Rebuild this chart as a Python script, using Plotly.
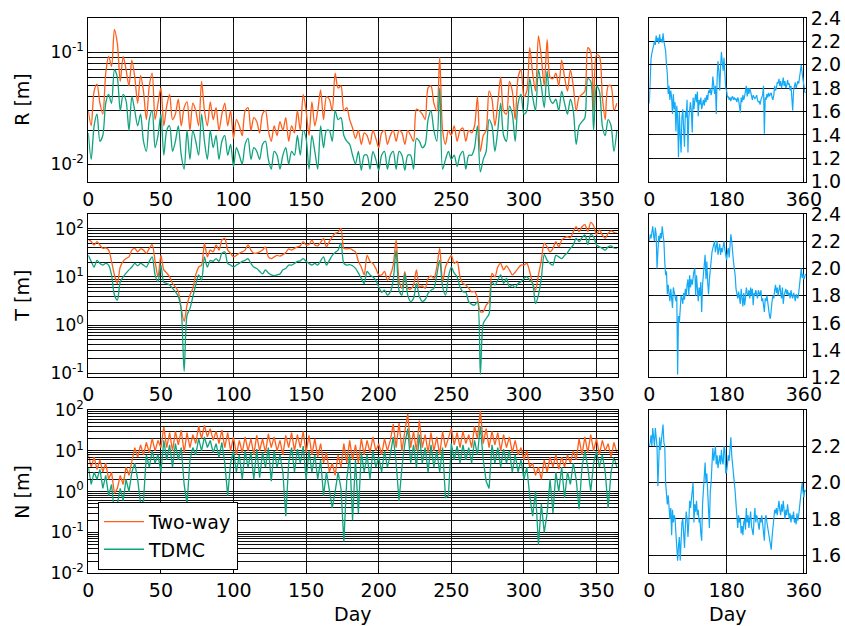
import plotly.graph_objects as go

# ---------------- data (every 2nd day) ----------------
days = list(range(0, 365, 2))

r_twoway = [
    0.030, 0.022, 0.045, 0.052, 0.035, 0.028, 0.065, 0.092, 0.075, 0.16,
    0.12, 0.055, 0.092, 0.07, 0.05, 0.085, 0.06, 0.035, 0.062, 0.045,
    0.025, 0.05, 0.065, 0.025, 0.035, 0.048, 0.022, 0.033, 0.042, 0.025,
    0.028, 0.038, 0.022, 0.032, 0.036, 0.02, 0.035, 0.03, 0.022, 0.055,
    0.03, 0.022, 0.036, 0.025, 0.032, 0.02, 0.028, 0.035, 0.022, 0.03,
    0.017, 0.025, 0.022, 0.018, 0.03, 0.032, 0.02, 0.026, 0.024, 0.019,
    0.028, 0.03, 0.02, 0.016, 0.022, 0.018, 0.024, 0.02, 0.026, 0.016,
    0.022, 0.019, 0.03, 0.02, 0.042, 0.03, 0.018, 0.036, 0.022, 0.03,
    0.046, 0.025, 0.04, 0.038, 0.03, 0.065, 0.048, 0.05, 0.03, 0.032,
    0.025, 0.021, 0.017, 0.02, 0.015, 0.019, 0.018, 0.015, 0.02, 0.017,
    0.014, 0.019, 0.02, 0.015, 0.018, 0.02, 0.016, 0.02, 0.019, 0.015,
    0.02, 0.018, 0.016, 0.031, 0.03, 0.028, 0.025, 0.048, 0.05, 0.035,
    0.03, 0.09, 0.02, 0.015, 0.02, 0.018, 0.022, 0.016, 0.02, 0.021,
    0.016, 0.02, 0.019, 0.022, 0.04, 0.013, 0.018, 0.02, 0.045, 0.038,
    0.022, 0.035, 0.06, 0.03, 0.028, 0.055, 0.045, 0.025, 0.06, 0.07,
    0.04, 0.045, 0.11, 0.065, 0.045, 0.14, 0.09, 0.05, 0.13, 0.06,
    0.058, 0.065, 0.05, 0.085, 0.06, 0.045, 0.07, 0.05, 0.03, 0.04,
    0.042, 0.045, 0.11, 0.1, 0.03, 0.095, 0.092, 0.04, 0.025, 0.05,
    0.05, 0.03, 0.035,
]
r_tdmc = [
    0.019, 0.011, 0.022, 0.028, 0.016, 0.018, 0.035, 0.042, 0.035, 0.07,
    0.06, 0.03, 0.042, 0.037, 0.02, 0.04, 0.03, 0.022, 0.028, 0.016,
    0.013, 0.025, 0.03, 0.014, 0.018, 0.028, 0.012, 0.02, 0.022, 0.013,
    0.016, 0.022, 0.012, 0.009, 0.02, 0.011, 0.02, 0.016, 0.012, 0.028,
    0.016, 0.011, 0.02, 0.014, 0.018, 0.011, 0.016, 0.018, 0.012, 0.015,
    0.0095, 0.014, 0.012, 0.01, 0.015, 0.017, 0.011, 0.014, 0.013, 0.011,
    0.015, 0.016, 0.011, 0.009, 0.013, 0.012, 0.009, 0.012, 0.014, 0.01,
    0.013, 0.012, 0.018, 0.012, 0.02, 0.017, 0.009, 0.018, 0.013, 0.009,
    0.022, 0.014, 0.02, 0.02, 0.016, 0.03, 0.025, 0.026, 0.018, 0.016,
    0.015, 0.012, 0.01, 0.013, 0.0088, 0.012, 0.012, 0.009, 0.013, 0.011,
    0.0088, 0.012, 0.013, 0.009, 0.012, 0.013, 0.009, 0.013, 0.012, 0.0088,
    0.012, 0.012, 0.009, 0.017, 0.016, 0.014, 0.015, 0.025, 0.03, 0.02,
    0.016, 0.048, 0.009, 0.011, 0.013, 0.011, 0.012, 0.0095, 0.012, 0.013,
    0.009, 0.012, 0.012, 0.014, 0.022, 0.0085, 0.011, 0.013, 0.025, 0.022,
    0.013, 0.02, 0.035, 0.018, 0.016, 0.033, 0.028, 0.016, 0.035, 0.042,
    0.028, 0.03, 0.058, 0.04, 0.03, 0.07, 0.05, 0.032, 0.068, 0.038,
    0.035, 0.038, 0.03, 0.045, 0.035, 0.028, 0.038, 0.03, 0.015, 0.022,
    0.024, 0.026, 0.058, 0.055, 0.02, 0.05, 0.045, 0.022, 0.018, 0.025,
    0.022, 0.013, 0.02,
]

t_twoway = [
    60, 54, 46, 54, 46, 39, 40, 36, 21, 11,
    7.3, 16, 21, 24, 26, 36, 39, 33, 38, 36,
    31, 39, 47, 21, 10, 28, 14, 12, 10, 7.3,
    6.2, 4.9, 2.2, 1.2, 2.6, 4.2, 5.8, 11, 16, 17.6,
    50, 26, 36, 33, 46, 36, 58, 63, 36, 31,
    26, 28, 31, 33, 36, 46, 36, 31, 31, 33,
    36, 42, 26, 24, 26, 28, 27, 29, 32, 38,
    36, 39, 42, 44, 54, 46, 47, 58, 46, 44,
    52, 63, 42, 54, 68, 80, 84, 102, 39, 38,
    39, 36, 33, 21, 16, 11, 28, 21, 19, 15,
    11, 11, 13, 8.6, 11, 17.6, 58, 8.6, 5.8, 12.8,
    5.8, 5.6, 6.8, 14, 6.2, 6.5, 5.8, 9.3, 10.5, 9.3,
    16, 39, 7.9, 16, 22, 28, 19, 21, 10, 7.3,
    6.8, 5.8, 4.9, 5.0, 3.6, 1.9, 1.9, 2.6, 3.06, 11.8,
    10, 16, 19, 14, 17, 14, 11, 12.5, 15, 17.6,
    17.6, 19, 12.8, 7.3, 5.3, 11, 22, 50, 42, 33,
    39, 54, 42, 58, 65, 68, 65, 87, 110, 87,
    110, 122, 87, 135, 115, 76, 94, 74, 63, 80,
    90, 84, 80,
]
t_tdmc = [
    28, 21, 16, 22, 19, 17.6, 19, 17.6, 11, 4.2,
    3.3, 7.9, 10, 12, 14, 16, 19, 17, 19, 17.6,
    16, 21, 26, 11, 7.9, 17.6, 7.7, 7.3, 6.8, 5.8,
    4.9, 3.9, 2.06, 0.11, 1.6, 2.2, 3.9, 6.8, 11, 8.6,
    26, 16, 22, 21, 24, 21, 31, 33, 19, 17.6,
    16, 17.6, 19, 21, 22, 24, 19, 16, 15, 13,
    11.5, 14, 12, 11, 10.6, 11, 11.5, 14, 15, 17.6,
    17.6, 19, 21, 21.5, 24, 21, 19, 17.6, 19, 17.6,
    21.5, 26, 17.6, 22, 28, 32, 36, 50, 19, 17.6,
    18, 17, 15, 12, 9.3, 7.3, 13, 11, 10, 8.6,
    6.2, 4.8, 5.3, 4.2, 4.9, 8.6, 36, 5.3, 4.2, 11.8,
    4.2, 3.06, 3.6, 7.3, 3.9, 3.1, 3.4, 4.55, 5.3, 5.8,
    11, 22, 6.2, 4.2, 10, 16, 12, 10, 6.2, 4.9,
    4.8, 3.06, 2.7, 2.6, 3.06, 0.095, 1.08, 1.37, 1.7, 7.9,
    6.8, 8.6, 11, 7.3, 9.3, 6.2, 6.8, 6.0, 7.3, 7.9,
    9.3, 10, 8.6, 7.3, 2.8, 4.2, 9.3, 29, 22, 19,
    17.6, 28, 26, 24, 28, 32, 39, 46, 63, 54,
    65, 74, 47, 76, 68, 46, 42, 39, 36, 42,
    44, 40, 39,
]

n_twoway = [
    8, 4, 7, 3.5, 6, 3, 5, 2, 3, 0.9,
    1.2, 2.5, 1.5, 4, 2.5, 6, 12, 7, 14, 8,
    16, 9, 20, 10, 18, 12, 38, 12, 28, 10,
    30, 14, 32, 9, 28, 12, 25, 15, 40, 20,
    42, 22, 35, 18, 30, 15, 32, 12, 28, 10,
    22, 8, 18, 9, 22, 10, 20, 8, 24, 10,
    20, 9, 26, 12, 22, 10, 18, 8, 24, 12,
    28, 10, 25, 12, 30, 9, 24, 8, 20, 7,
    15, 5, 9, 3, 5, 2.5, 8, 4, 15, 5,
    18, 6, 14, 5, 20, 8, 18, 9, 22, 10,
    15, 8, 20, 10, 18, 45, 12, 48, 10, 30,
    80, 12, 30, 10, 55, 12, 25, 9, 28, 10,
    22, 8, 30, 12, 20, 35, 14, 28, 12, 30,
    15, 25, 12, 40, 20, 95, 15, 35, 12, 30,
    14, 28, 10, 25, 12, 22, 9, 18, 8, 12,
    6, 10, 4, 5, 2.5, 4, 2, 6, 3, 7,
    4, 8, 3.5, 7, 4, 8, 5, 10, 6, 20,
    8, 22, 9, 25, 10, 20, 8, 18, 10, 15,
    7, 16, 9,
]
n_tdmc = [
    4, 1.5, 3, 2, 3.5, 1.2, 2.5, 0.8, 1.5, 0.3,
    0.5, 1.2, 0.6, 2, 1, 3, 5, 2, 0.5, 0.6,
    8, 4, 10, 5, 8, 3, 18, 6, 14, 4,
    15, 6, 12, 1.5, 0.5, 6, 12, 8, 20, 10,
    22, 12, 18, 9, 15, 7, 16, 5, 0.8, 5,
    10, 3, 8, 2, 10, 4, 9, 2, 11, 2.2,
    9, 4, 12, 1.8, 10, 4, 8, 3, 0.25, 5,
    12, 3, 11, 5, 13, 2, 10, 3, 8, 2,
    6, 0.8, 3, 1, 0.4, 1, 3, 1.2, 0.06, 2,
    8, 0.2, 6, 0.3, 9, 3, 8, 2, 10, 4,
    7, 3, 10, 4, 8, 22, 5, 0.6, 4, 15,
    35, 5, 14, 4, 25, 5, 12, 3, 14, 4,
    10, 3, 12, 0.7, 0.8, 15, 6, 13, 5, 14,
    6, 12, 5, 18, 8, 40, 6, 1.8, 1.2, 14,
    5, 12, 4, 11, 5, 10, 3, 8, 3, 6,
    2, 4, 0.8, 0.25, 1, 0.05, 0.5, 0.1, 0.3, 2,
    0.3, 3, 1, 4, 0.7, 3, 1.5, 5, 2, 0.37,
    4, 10, 4, 1, 5, 10, 4, 8, 3, 0.4,
    3, 7, 4,
]

r_right = [
    1.67, 1.9, 2.05, 2.1, 2.13, 2.18, 2.2, 2.17, 2.25, 2.2,
    2.23, 2.18, 2.26, 2.2, 2.22, 2.19, 2.27, 2.2, 2.15, 2.12,
    2.0, 1.92, 1.75, 1.82, 1.7, 1.78, 1.72, 1.58, 1.75, 1.62,
    1.68, 1.43, 1.65, 1.55, 1.21, 1.6, 1.4, 1.25, 1.55, 1.62,
    1.45, 1.3, 1.6, 1.55, 1.7, 1.25, 1.55, 1.62, 1.68, 1.6,
    1.42, 1.72, 1.62, 1.7, 1.75, 1.68, 1.77, 1.56, 1.7, 1.66,
    1.72, 1.62, 1.68, 1.7, 1.65, 1.72, 1.68, 1.74, 1.7, 1.78,
    1.76, 1.8, 1.74, 1.78, 1.9, 1.82, 1.75, 1.82, 1.58, 1.88,
    2.03, 1.95, 1.78, 1.98, 2.11, 2.02, 1.95, 2.06, 1.85, 1.8,
    1.78, 1.72, 1.73, 1.7, 1.72, 1.69, 1.72, 1.73, 1.7, 1.72,
    1.7, 1.71, 1.68, 1.72, 1.7, 1.66, 1.59, 1.72, 1.68, 1.74,
    1.7, 1.73, 1.8, 1.82, 1.73, 1.8, 1.75, 1.8, 1.77, 1.72,
    1.7, 1.74, 1.73, 1.71, 1.72, 1.74, 1.7, 1.68, 1.69, 1.66,
    1.7, 1.72, 1.74, 1.82, 1.41, 1.72, 1.7, 1.75, 1.72, 1.76,
    1.73, 1.75, 1.76, 1.72, 1.7, 1.74, 1.82, 1.78, 1.8, 1.85,
    1.84, 1.88, 1.82, 1.86, 1.8, 1.84, 1.89, 1.82, 1.86, 1.8,
    1.82, 1.87, 1.83, 1.84, 1.78, 1.82, 1.7, 1.61, 1.78, 1.84,
    1.85, 1.8, 1.83, 1.86, 1.84, 1.9, 1.95, 2.0, 1.93, 1.87,
    1.82, 1.77, 1.76,
]
t_right = [
    2.2, 2.25, 2.22, 2.28, 2.31, 2.24, 2.2, 2.3, 2.25, 2.0,
    2.1, 2.24, 2.2, 2.26, 2.22, 2.31, 2.25, 2.2, 2.05, 1.95,
    1.98, 1.81, 1.88, 1.8, 1.76, 1.85, 1.78, 1.71, 1.86, 1.82,
    1.78, 1.76, 1.8, 1.22, 1.65, 1.6, 1.7, 1.8, 1.78, 1.74,
    1.82, 1.77, 1.85, 1.8, 1.88, 1.92, 1.8, 1.95, 1.86, 1.92,
    1.88, 1.95, 1.98, 2.0, 1.8, 1.95, 1.82, 1.76, 1.86, 1.8,
    1.9, 1.68, 1.88, 1.95, 2.05, 2.1, 1.92, 2.05, 1.9, 1.81,
    1.92, 2.0, 2.05, 2.12, 2.15, 2.18, 2.2, 2.12, 2.18, 2.2,
    2.1, 2.14, 2.18, 2.1, 2.15, 2.12, 2.18, 2.2, 2.14, 2.1,
    2.06, 2.12, 2.15, 2.08, 2.18, 2.25, 2.2, 2.1, 2.05, 2.0,
    1.95, 1.85, 1.82, 1.78, 1.83, 1.76, 1.74, 1.85, 1.8, 1.72,
    1.82, 1.73, 1.78, 1.86, 1.82, 1.8, 1.84, 1.78, 1.86, 1.8,
    1.85, 1.73, 1.82, 1.8, 1.84, 1.81, 1.78, 1.84, 1.82, 1.8,
    1.84, 1.76, 1.78, 1.7, 1.68, 1.78, 1.76, 1.8, 1.74, 1.68,
    1.65, 1.63, 1.72, 1.76, 1.8, 1.78, 1.84, 1.88, 1.82, 1.86,
    1.8, 1.84, 1.88, 1.82, 1.78, 1.86, 1.74, 1.8, 1.82, 1.85,
    1.81, 1.84, 1.8, 1.82, 1.78, 1.84, 1.8, 1.78, 1.82, 1.8,
    1.76, 1.81, 1.79, 1.78, 1.82, 1.88, 1.95, 2.0, 1.93, 1.96,
    1.92, 1.95, 1.96,
]
n_right = [
    2.2, 2.22, 2.26, 2.2, 2.3, 2.26, 2.2, 2.3, 2.24, 2.2,
    1.98, 2.2, 2.25, 2.18, 2.22, 2.28, 2.32, 2.22, 2.2, 2.0,
    1.95, 1.88, 1.93, 1.85, 1.8, 1.86, 1.71, 1.85, 1.78, 1.82,
    1.8, 1.72, 1.62, 1.57, 1.65, 1.7, 1.57, 1.75, 1.78, 1.8,
    1.72, 1.64, 1.76, 1.84, 1.8, 1.7, 1.78, 1.9, 1.86, 1.92,
    1.95, 2.0, 1.78, 1.88, 1.84, 1.9, 1.82, 1.85, 1.78, 1.8,
    1.72, 1.68, 1.88, 1.95, 2.05, 2.11, 2.0, 2.05, 1.95, 1.8,
    1.75, 1.95, 2.0, 2.1, 2.19, 2.12, 2.15, 2.2, 2.1, 2.15,
    2.08, 2.12, 2.15, 2.1, 2.18, 2.12, 2.1, 2.2, 2.18, 2.05,
    2.06, 2.1, 2.15, 2.12, 2.2, 2.25, 2.15, 2.1, 2.05, 2.03,
    1.95, 1.88, 1.8, 1.75, 1.82, 1.78, 1.8, 1.72, 1.76, 1.71,
    1.78, 1.8, 1.74, 1.86, 1.78, 1.82, 1.75, 1.8, 1.84, 1.76,
    1.72, 1.71, 1.8, 1.86, 1.78, 1.82, 1.8, 1.77, 1.74, 1.8,
    1.78, 1.82, 1.76, 1.74, 1.68, 1.8, 1.82, 1.78, 1.75, 1.72,
    1.68, 1.65, 1.63, 1.7, 1.75, 1.78, 1.85, 1.83, 1.86, 1.82,
    1.88, 1.9, 1.85, 1.82, 1.88, 1.84, 1.9, 1.86, 1.8, 1.85,
    1.82, 1.88, 1.84, 1.8, 1.83, 1.78, 1.82, 1.8, 1.84, 1.78,
    1.8, 1.77, 1.83, 1.79, 1.82, 1.86, 1.9, 1.96, 2.0, 1.95,
    1.92, 1.96, 1.95,
]

left_xticks = [0, 50, 100, 150, 200, 250, 300, 350]
right_xticks = [0, 180, 360]
r_right_ticks = [1.0, 1.2, 1.4, 1.6, 1.8, 2.0, 2.2, 2.4]
t_right_ticks = [1.2, 1.4, 1.6, 1.8, 2.0, 2.2, 2.4]
n_right_ticks = [1.6, 1.8, 2.0, 2.2]

for name, arr in [("r_twoway", r_twoway), ("r_tdmc", r_tdmc), ("t_twoway", t_twoway),
                  ("t_tdmc", t_tdmc), ("n_twoway", n_twoway), ("n_tdmc", n_tdmc),
                  ("r_right", r_right), ("t_right", t_right), ("n_right", n_right)]:
    if len(arr) != len(days):
        raise ValueError(f"{name} has {len(arr)} values, expected {len(days)}")

# ---------------- styling ----------------
FONT = "DejaVu Sans"
ORANGE = "#ff5f1a"
GREEN = "#0fa37e"
BLUE = "#12a9f7"
W, H = 845, 626


def px_x(a, b):
    return [a / W, b / W]


def px_y(top, bottom):
    return [1 - bottom / H, 1 - top / H]


def log_ticks(e0, e1):
    vals, text = [], []
    for e in range(e0, e1 + 1):
        for m in range(1, 10):
            vals.append(m * 10.0 ** e)
            text.append(f"10<sup>{e}</sup>" if m == 1 else "")
    return vals, text


LEFT = px_x(88.3, 618.3)
RIGHT = px_x(649.3, 806.0)
ROWS = [px_y(18, 181.7), px_y(214, 377.3), px_y(410, 573.3)]

common = dict(showline=True, linecolor="black", linewidth=1, mirror="ticks",
              ticks="inside", ticklen=4, tickcolor="black", showgrid=True,
              gridcolor="#111111", gridwidth=1, zeroline=False, automargin=False,
              tickfont=dict(family=FONT, size=19, color="black"))

fig = go.Figure()

left_sets = [(r_twoway, r_tdmc, "spline"), (t_twoway, t_tdmc, "spline"),
             (n_twoway, n_tdmc, "linear")]
right_sets = [r_right, t_right, n_right]

for i, (tw, td, shape) in enumerate(left_sets):
    xa = "x" if i == 0 else f"x{2 * i + 1}"
    ya = "y" if i == 0 else f"y{2 * i + 1}"
    fig.add_trace(go.Scatter(x=days, y=tw, mode="lines", name="Two-way",
                             line=dict(color=ORANGE, width=1.3, shape=shape, smoothing=0.8),
                             xaxis=xa, yaxis=ya, showlegend=(i == 0)))
    fig.add_trace(go.Scatter(x=days, y=td, mode="lines", name="TDMC",
                             line=dict(color=GREEN, width=1.3, shape=shape, smoothing=0.8),
                             xaxis=xa, yaxis=ya, showlegend=(i == 0)))

for i, vals in enumerate(right_sets):
    fig.add_trace(go.Scatter(x=days, y=vals, mode="lines", name="ratio",
                             line=dict(color=BLUE, width=1.2),
                             xaxis=f"x{2 * i + 2}", yaxis=f"y{2 * i + 2}",
                             showlegend=False))

log_ranges = [(-2.158, -0.693, -2, -1), (-1.083, 2.305, -1, 2), (-2.0, 2.0, -2, 2)]
lin_ranges = [([1.0, 2.4], r_right_ticks), ([1.2, 2.4], t_right_ticks), ([1.5, 2.4], n_right_ticks)]

layout = {}
for i in range(3):
    lx = "xaxis" if i == 0 else f"xaxis{2 * i + 1}"
    ly = "yaxis" if i == 0 else f"yaxis{2 * i + 1}"
    rx = f"xaxis{2 * i + 2}"
    ry = f"yaxis{2 * i + 2}"
    lxa = "x" if i == 0 else f"x{2 * i + 1}"
    lya = "y" if i == 0 else f"y{2 * i + 1}"
    r0, r1, e0, e1 = log_ranges[i]
    tv, tt = log_ticks(e0, e1)
    layout[lx] = dict(common, domain=LEFT, anchor=lya, range=[0, 365],
                      tickvals=left_xticks)
    layout[ly] = dict(common, domain=ROWS[i], anchor=lxa, type="log",
                      range=[r0, r1], tickvals=tv, ticktext=tt,
                      tickfont=dict(family=FONT, size=17, color="black"))
    rng, ticks = lin_ranges[i]
    layout[rx] = dict(common, domain=RIGHT, anchor=f"y{2 * i + 2}", range=[0, 365],
                      tickvals=right_xticks)
    layout[ry] = dict(common, domain=ROWS[i], anchor=f"x{2 * i + 2}", side="right",
                      range=rng, tickvals=ticks,
                      ticktext=[f"{v:.1f}" for v in ticks])

annotations = []
for label, (y0, y1) in zip(["R [m]", "T [m]", "N [m]"], ROWS):
    annotations.append(dict(text=label, x=22 / W, y=(y0 + y1) / 2, xref="paper", yref="paper",
                            xanchor="center", yanchor="middle",
                            textangle=-90, showarrow=False,
                            font=dict(family=FONT, size=19, color="black")))
for cx in [(88.3 + 618.3) / 2, (649.3 + 806.0) / 2]:
    annotations.append(dict(text="Day", x=cx / W, y=1 - 614 / H, xref="paper", yref="paper",
                            xanchor="center", yanchor="middle",
                            showarrow=False, font=dict(family=FONT, size=19, color="black")))

fig.update_layout(
    width=W, height=H, autosize=False,
    margin=dict(l=0, r=0, t=0, b=0, autoexpand=False),
    paper_bgcolor="white", plot_bgcolor="white",
    font=dict(family=FONT, size=19, color="black"),
    annotations=annotations,
    legend=dict(x=98 / W, y=1 - 501.7 / H, xanchor="left", yanchor="top",
                bgcolor="white", bordercolor="black", borderwidth=1,
                font=dict(family=FONT, size=19, color="black"),
                itemwidth=40, tracegroupgap=4),
    showlegend=True,
    **layout,
)

fig.write_html(
    "out.html",
    config={"displayModeBar": False},
    post_script="document.body.style.margin='0';document.body.style.padding='0';"
                "document.body.style.overflow='hidden';",
)
